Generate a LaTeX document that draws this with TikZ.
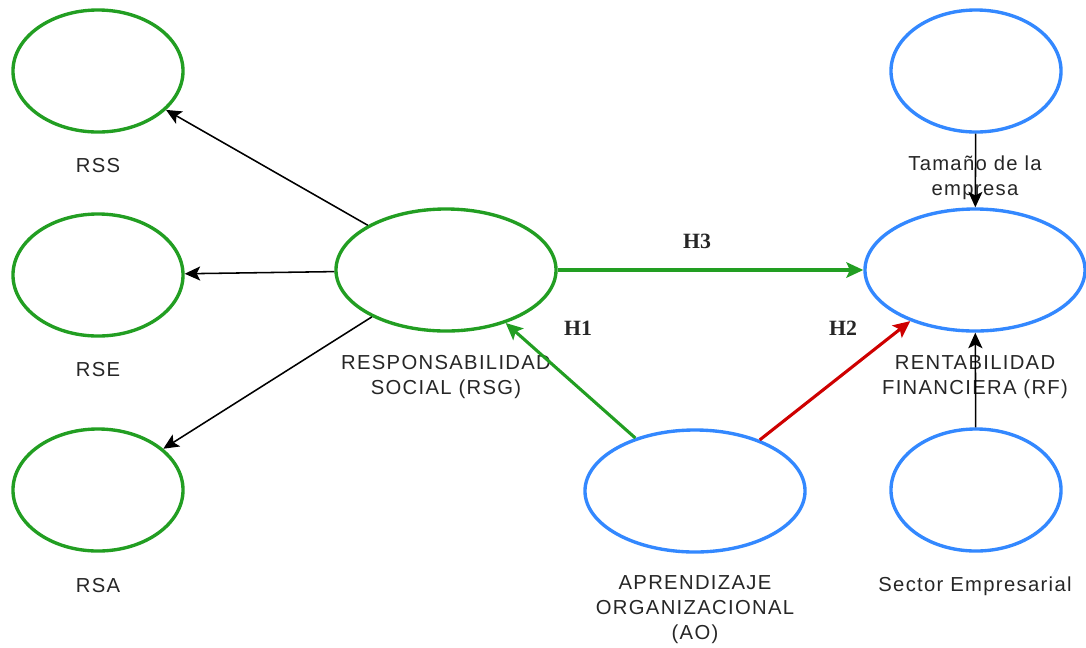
\documentclass[tikz,border=0pt]{standalone}
\usepackage{fontspec}
\setmainfont{Liberation Sans}
\newfontfamily\hfont{Liberation Serif}
\usetikzlibrary{shapes.geometric}
\usetikzlibrary{arrows.meta}
\definecolor{drgreen}{RGB}{34,158,34}
\definecolor{drblue}{RGB}{51,136,255}
\definecolor{drred}{RGB}{206,0,0}
\tikzset{
	greenstyle/.style={ellipse,draw=drgreen,line width=2.4pt,fill=white},
	bluestyle/.style={ellipse,draw=drblue,line width=2.4pt,fill=white},
	smallstyle/.style={minimum width=4.25cm,minimum height=3.05cm},
	bigstyle/.style={minimum width=5.5cm,minimum height=3.05cm},
	textstyle/.style={align=center,text=black!85,font=\fontsize{14.4}{17.7}\selectfont\addfontfeature{LetterSpace=6.5}},
	hstyle/.style={text=black!85,font=\fontsize{15.5}{17}\selectfont\hfont\bfseries},
	thinarrow/.style={-{Stealth[length=11pt,width=10pt,inset=2.5pt]},line width=1.1pt},
	thickarrow/.style={-{Stealth[length=12pt,width=11pt,inset=2.5pt]},line width=2.2pt}
}
\begin{document}
\begin{tikzpicture}[x=0.025cm,y=-0.025cm]
	\useasboundingbox (0,0) rectangle (1086,647);
	\node[greenstyle,smallstyle] (rss) at (98,71) {};
	\node[greenstyle,smallstyle] (rse) at (98,275) {};
	\node[greenstyle,smallstyle] (rsa) at (98,490) {};
	\node[greenstyle,bigstyle] (rsg) at (446,270) {};
	\node[bluestyle,bigstyle] (ao) at (695,491) {};
	\node[bluestyle,smallstyle] (tam) at (976,71) {};
	\node[bluestyle,bigstyle] (rf) at (975,270) {};
	\node[bluestyle,smallstyle] (sec) at (976,490) {};
	\node[textstyle] at (98,166) {RSS};
	\node[textstyle] at (98,370) {RSE};
	\node[textstyle] at (98,586) {RSA};
	\node[textstyle] at (446,377) {RESPONSABILIDAD\\SOCIAL (RSG)};
	\node[textstyle] at (975,178) {Tamaño de la\\empresa};
	\node[textstyle] at (975,377) {RENTABILIDAD\\FINANCIERA (RF)};
	\node[textstyle] at (975,586) {Sector Empresarial};
	\node[textstyle] at (695,610) {APRENDIZAJE\\ORGANIZACIONAL\\(AO)};
	\node[hstyle] at (697,241) {H3};
	\node[hstyle] at (578,328) {H1};
	\node[hstyle] at (843,328) {H2};
	\draw[thinarrow] (rsg)--(rss);
	\draw[thinarrow] (rsg)--(rse);
	\draw[thinarrow] (rsg)--(rsa);
	\draw[thickarrow,drgreen] (rsg)--(rf);
	\draw[thickarrow,drgreen] (ao)--(rsg);
	\draw[thickarrow,drred] (ao)--(rf);
	\draw[thinarrow] (tam)--(rf);
	\draw[thinarrow] (sec)--(rf);
\end{tikzpicture}
\end{document}
